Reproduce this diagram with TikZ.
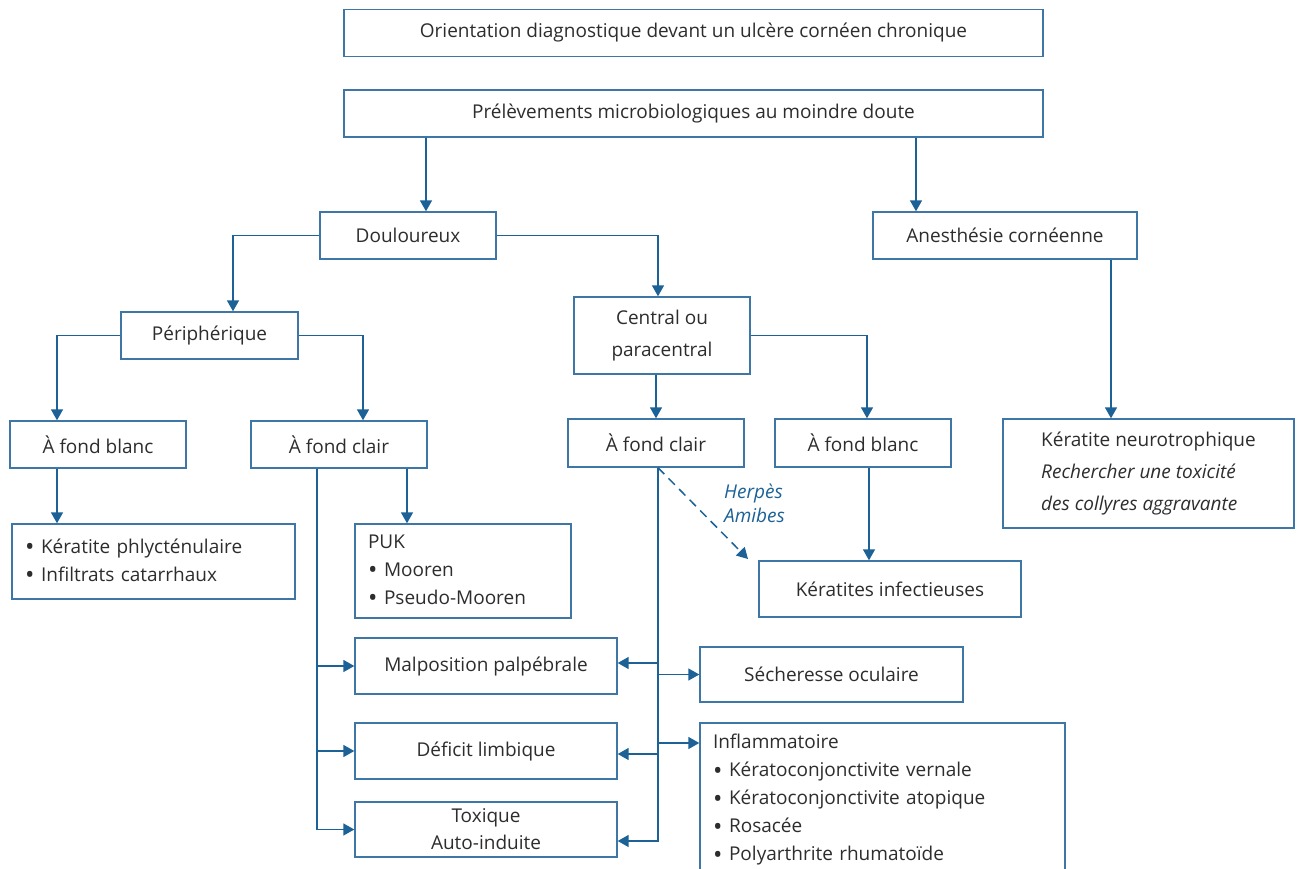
\documentclass[tikz,border=0pt]{standalone}
\usepackage{fontspec}
\setmainfont{Open Sans}
\usetikzlibrary{arrows.meta,calc}
\definecolor{linec}{RGB}{28,98,150}
\definecolor{boxc}{RGB}{62,118,165}
\definecolor{txtc}{RGB}{45,45,45}
\newcommand{\blt}{\raisebox{-2.2pt}{\fontsize{25}{25}\selectfont\textbullet}\hspace{0.35em}}
\begin{document}
\begin{tikzpicture}[x=1pt,y=-1pt,
  box/.style={draw=boxc, line width=1.4pt, inner sep=0pt, align=center, text=txtc,
    font=\fontsize{19}{30}\selectfont},
  listbox/.style={box, align=left, inner xsep=13pt, font=\fontsize{19}{28}\selectfont},
  conn/.style={draw=linec, line width=1.5pt},
  arr/.style={conn, -{Triangle[width=12pt,length=11pt]}}]
\useasboundingbox (0,0) rectangle (1301,869);
\fill[white] (0,0) rectangle (1301,869);
% boxes
\node[box, minimum width=699pt, minimum height=47pt] (top) at (693.5,33) {Orientation diagnostique devant un ulcère cornéen chronique};
\node[box, minimum width=699pt, minimum height=47pt] (prel) at (693.5,113.5) {Prélèvements microbiologiques au moindre doute};
\node[box, minimum width=176pt, minimum height=47pt] (doul) at (408,235.5) {Douloureux};
\node[box, minimum width=264pt, minimum height=47pt] (anes) at (1005,235.5) {Anesthésie cornéenne};
\node[box, minimum width=177pt, minimum height=47pt] (peri) at (209.5,335.5) {Périphérique};
\node[box, minimum width=176pt, minimum height=77pt, font=\fontsize{19}{32}\selectfont] (cent) at (662,335.5) {Central ou\\paracentral};
\node[box, minimum width=176pt, minimum height=47pt] (fbl) at (98,444.5) {À fond blanc};
\node[box, minimum width=176pt, minimum height=47pt] (fcl) at (339,444.5) {À fond clair};
\node[box, minimum width=176pt, minimum height=48pt] (fcc) at (656,443) {À fond clair};
\node[box, minimum width=176pt, minimum height=48pt] (fbc) at (863,443) {À fond blanc};
\node[box, align=left, minimum width=291pt, minimum height=109pt, font=\fontsize{19}{32}\selectfont] (neur) at (1148.5,473.5) {Kératite neurotrophique\\\textit{Rechercher une toxicité}\\\textit{des collyres aggravante}};
\node[listbox, text width=257pt, minimum height=75pt] (kp) at (153.5,561.5) {\blt Kératite phlycténulaire\\\blt Infiltrats catarrhaux};
\node[listbox, text width=190pt, minimum height=94pt] (puk) at (463,571) {PUK\\\blt Mooren\\\blt Pseudo-Mooren};
\node[box, minimum width=262pt, minimum height=56pt] (ki) at (890,589) {Kératites infectieuses};
\node[box, minimum width=262pt, minimum height=56pt] (mal) at (486,666) {Malposition palpébrale};
\node[box, minimum width=263pt, minimum height=55pt] (sec) at (831.5,674.5) {Sécheresse oculaire};
\node[box, minimum width=262pt, minimum height=56pt] (def) at (486,751) {Déficit limbique};
\node[listbox, text width=339pt, minimum height=154pt] (inf) at (882.5,800) {Inflammatoire\\\blt Kératoconjonctivite vernale\\\blt Kératoconjonctivite atopique\\\blt Rosacée\\\blt Polyarthrite rhumatoïde};
\node[box, minimum width=262pt, minimum height=55pt, font=\fontsize{19}{27}\selectfont] (tox) at (486,829.5) {Toxique\\Auto-induite};
% connectors
\draw[arr] (426,0 |- prel.south) -- (426,0 |- doul.north);
\draw[arr] (916,0 |- prel.south) -- (916,0 |- anes.north);
\draw[arr] (doul.west) -| (233,0 |- peri.north);
\draw[arr] (doul.east) -| (658,0 |- cent.north);
\draw[arr] (peri.west) -| (57,0 |- fbl.north);
\draw[arr] (peri.east) -| (363,0 |- fcl.north);
\draw[arr] (57,0 |- fbl.south) -- (57,0 |- kp.north);
\draw[arr] (407,0 |- fcl.south) -- (407,0 |- puk.north);
\draw[arr] (317,0 |- fcl.south) |- (tox.west);
\draw[arr] (317,0 |- mal.west) -- (mal.west);
\draw[arr] (317,0 |- def.west) -- (def.west);
\draw[arr] (656,0 |- cent.south) -- (656,0 |- fcc.north);
\draw[arr] (cent.east) -| (867,0 |- fbc.north);
\draw[arr] (869,0 |- fbc.south) -- (869,0 |- ki.north);
\draw[arr] (1111,0 |- anes.south) -- (1111,0 |- neur.north);
\draw[arr] (658,0 |- fcc.south) |- (tox.east |- 0,841);
\draw[arr] (658,663) -- (mal.east |- 0,663);
\draw[arr] (658,754) -- (def.east |- 0,754);
\draw[arr] (658,0 |- sec.west) -- (sec.west);
\draw[arr] (658,743) -- (inf.west |- 0,743);
\coordinate (dashend) at (748,559);
\draw[arr, dashed, dash pattern=on 9pt off 6pt] (658,0 |- fcc.south) -- (dashend);
\node[anchor=west, align=left, text=linec, inner sep=0pt, font=\fontsize{19}{24}\selectfont\itshape] (herp) at (724,503) {Herpès\\Amibes};
\end{tikzpicture}
\end{document}
